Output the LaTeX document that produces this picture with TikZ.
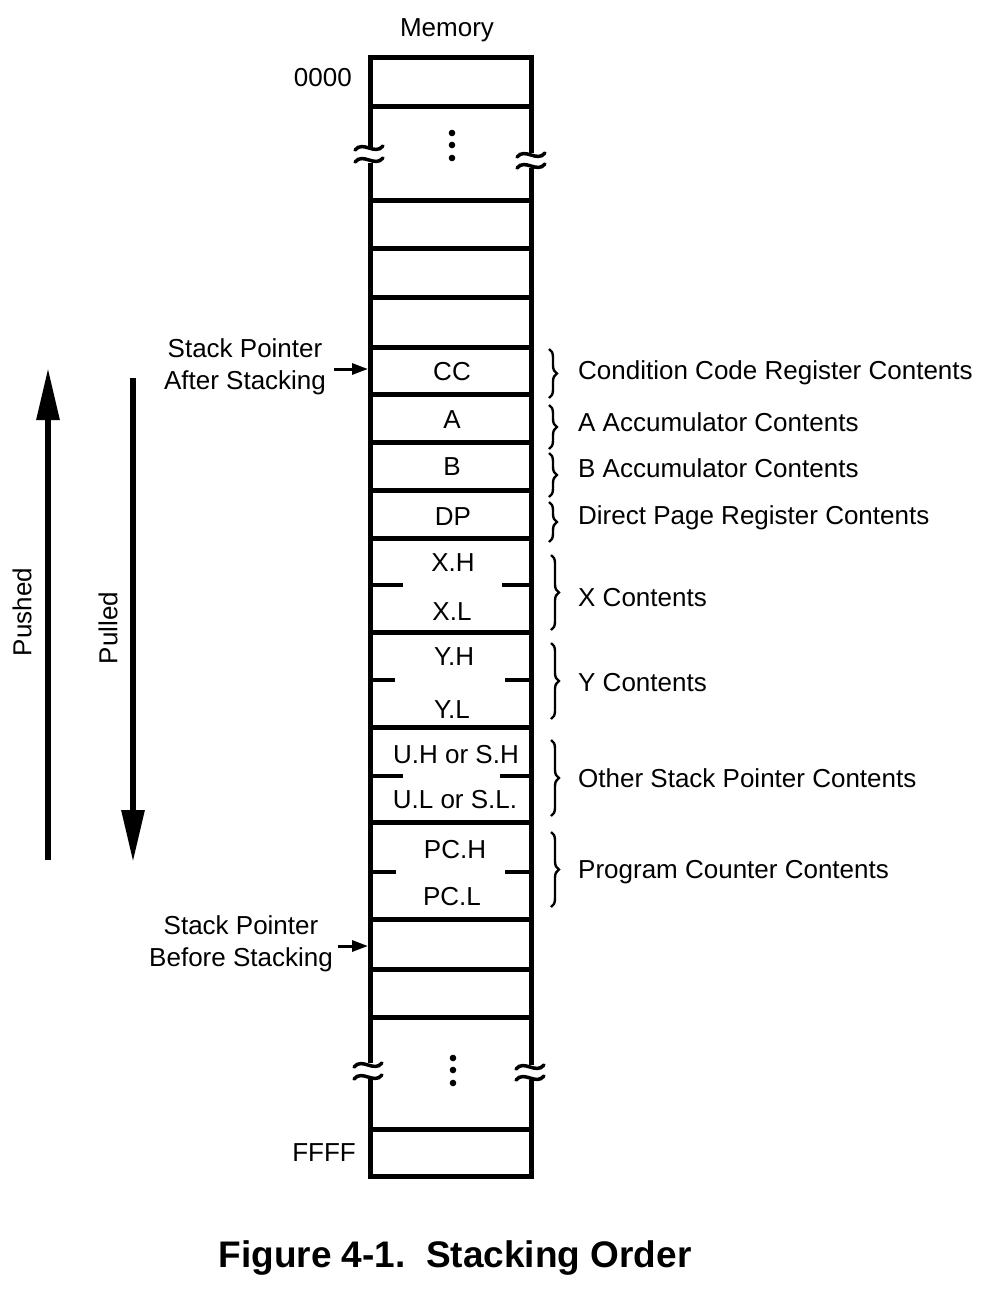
\documentclass[tikz,border=0pt]{standalone}
\usepackage{fontspec}
\setmainfont{Liberation Sans}
\usepackage{tikz}
\usetikzlibrary{arrows.meta,decorations.pathreplacing}
\tikzset{
  wallln/.style={line width=5pt, line join=miter},
  rowln/.style={line width=5pt},
  tickln/.style={line width=3.5pt},
  lbl/.style={font=\fontsize{26}{32}\selectfont, inner sep=0pt},
  brc/.style={decorate, decoration={brace, amplitude=8pt}, line width=2.4pt},
  bigarr/.style={-{Triangle[length=52pt,width=22pt]}, line width=6pt},
  sparr/.style={-{Triangle[length=16pt,width=11pt]}, line width=3pt},
  wave/.style={line width=3.5pt, line cap=round},
}
\newcommand{\brkmark}[2]{%
  \draw[wave] (#1-14,#2+2) .. controls (#1-6,#2-8) and (#1+6,#2+8) .. (#1+14,#2-2);
}
\newcommand{\splitrow}[3]{%
  \draw[tickln] (370,#1) -- (#2,#1);
  \draw[tickln] (#3,#1) -- (531,#1);
}
\newcommand{\vdotsat}[2]{%
  \fill (#1,#2-12) circle (3.3);
  \fill (#1,#2) circle (3.3);
  \fill (#1,#2+13) circle (3.3);
}

\begin{document}
\begin{tikzpicture}[x=1pt,y=-1pt]
  \useasboundingbox (0,0) rectangle (1006,1294);
  % memory column
  \node[lbl] (memlbl) at (447,30) {Memory};
  \draw[wallln] (370,147) -- (370,57) -- (531,57) -- (531,153);
  \draw[wallln] (370,163) -- (370,1063);
  \draw[wallln] (531,168) -- (531,1065);
  \draw[wallln] (370,1079) -- (370,1176) -- (531,1176) -- (531,1080);
  \brkmark{369}{148}
  \brkmark{369}{160}
  \brkmark{531}{155}
  \brkmark{531}{166}
  \brkmark{368}{1065}
  \brkmark{368}{1077}
  \brkmark{530}{1067}
  \brkmark{530}{1078}
  \foreach \yy in {106,200,248,297,347,394,442,490,538,632,727,822,919,969,1017,1129}
    \draw[rowln] (370,\yy) -- (531,\yy);
  \splitrow{585}{403}{502}
  \splitrow{680}{395}{505}
  \splitrow{776}{403}{500}
  \splitrow{872}{396}{505}
  \vdotsat{452}{145}
  \vdotsat{453}{1070}
  \node[lbl, anchor=east] (addrlo) at (352,78) {0000};
  \node[lbl, anchor=east] (addrhi) at (356,1153) {FFFF};
  % cell contents
  \node[lbl] (cc) at (452,372) {CC};
  \node[lbl] (acc) at (452,420) {A};
  \node[lbl] (bacc) at (452,467) {B};
  \node[lbl] (dp) at (453,517) {DP};
  \node[lbl] (xh) at (453,563) {X.H};
  \node[lbl] (xl) at (452,612) {X.L};
  \node[lbl] (yh) at (454,657) {Y.H};
  \node[lbl] (yl) at (452,710) {Y.L};
  \node[lbl] (uh) at (456,755) {U.H or S.H};
  \node[lbl] (ul) at (455,800) {U.L or S.L.};
  \node[lbl] (pch) at (455,850) {PC.H};
  \node[lbl] (pcl) at (452,897) {PC.L};
  % braces and descriptions
  \draw[brc] (549,349) -- (549,398);
  \draw[brc] (549,405) -- (549,449);
  \draw[brc] (549,453) -- (549,497);
  \draw[brc] (549,502) -- (549,542);
  \draw[brc] (551,555) -- (551,630);
  \draw[brc] (551,643) -- (551,719);
  \draw[brc] (551,740) -- (551,816);
  \draw[brc] (551,832) -- (551,907);
  \node[lbl, anchor=west] (ccdesc) at (578,373) {Condition Code Register Contents};
  \node[lbl, anchor=west] (adesc) at (578,422) {A Accumulator Contents};
  \node[lbl, anchor=west] (bdesc) at (578,468) {B Accumulator Contents};
  \node[lbl, anchor=west] (dpdesc) at (578,518) {Direct Page Register Contents};
  \node[lbl, anchor=west] (xdesc) at (578,598) {X Contents};
  \node[lbl, anchor=west] (ydesc) at (578,683) {Y Contents};
  \node[lbl, anchor=west] (udesc) at (578,778) {Other Stack Pointer Contents};
  \node[lbl, anchor=west] (pcdesc) at (578,872) {Program Counter Contents};
  % stack pointers
  \node[lbl, align=center] (spafter) at (245,367) {Stack Pointer\\After Stacking};
  \coordinate (ccwest) at (368,369);
  \draw[sparr] ([xshift=8pt,yshift=-2pt]spafter.east) -- (ccwest);
  \node[lbl, align=center] (spbefore) at (241,944) {Stack Pointer\\Before Stacking};
  \coordinate (freewest) at (368,946);
  \draw[sparr] ([xshift=5pt,yshift=-2pt]spbefore.east) -- (freewest);
  % push / pull
  \coordinate (pushbot) at (48,860);
  \coordinate (pushtop) at (48,368);
  \draw[bigarr] (pushbot) -- (pushtop);
  \node[lbl, rotate=90] (pushlbl) at (22,612) {Pushed};
  \coordinate (pulltop) at (133,378);
  \coordinate (pullbot) at (133,862);
  \draw[bigarr] (pulltop) -- (pullbot);
  \node[lbl, rotate=90] (pulllbl) at (108,628) {Pulled};
  % caption
  \node[font=\fontsize{37}{44}\selectfont\bfseries, inner sep=0pt] (caption) at (455,1258) {Figure 4-1.~~Stacking Order};
\end{tikzpicture}
\end{document}
